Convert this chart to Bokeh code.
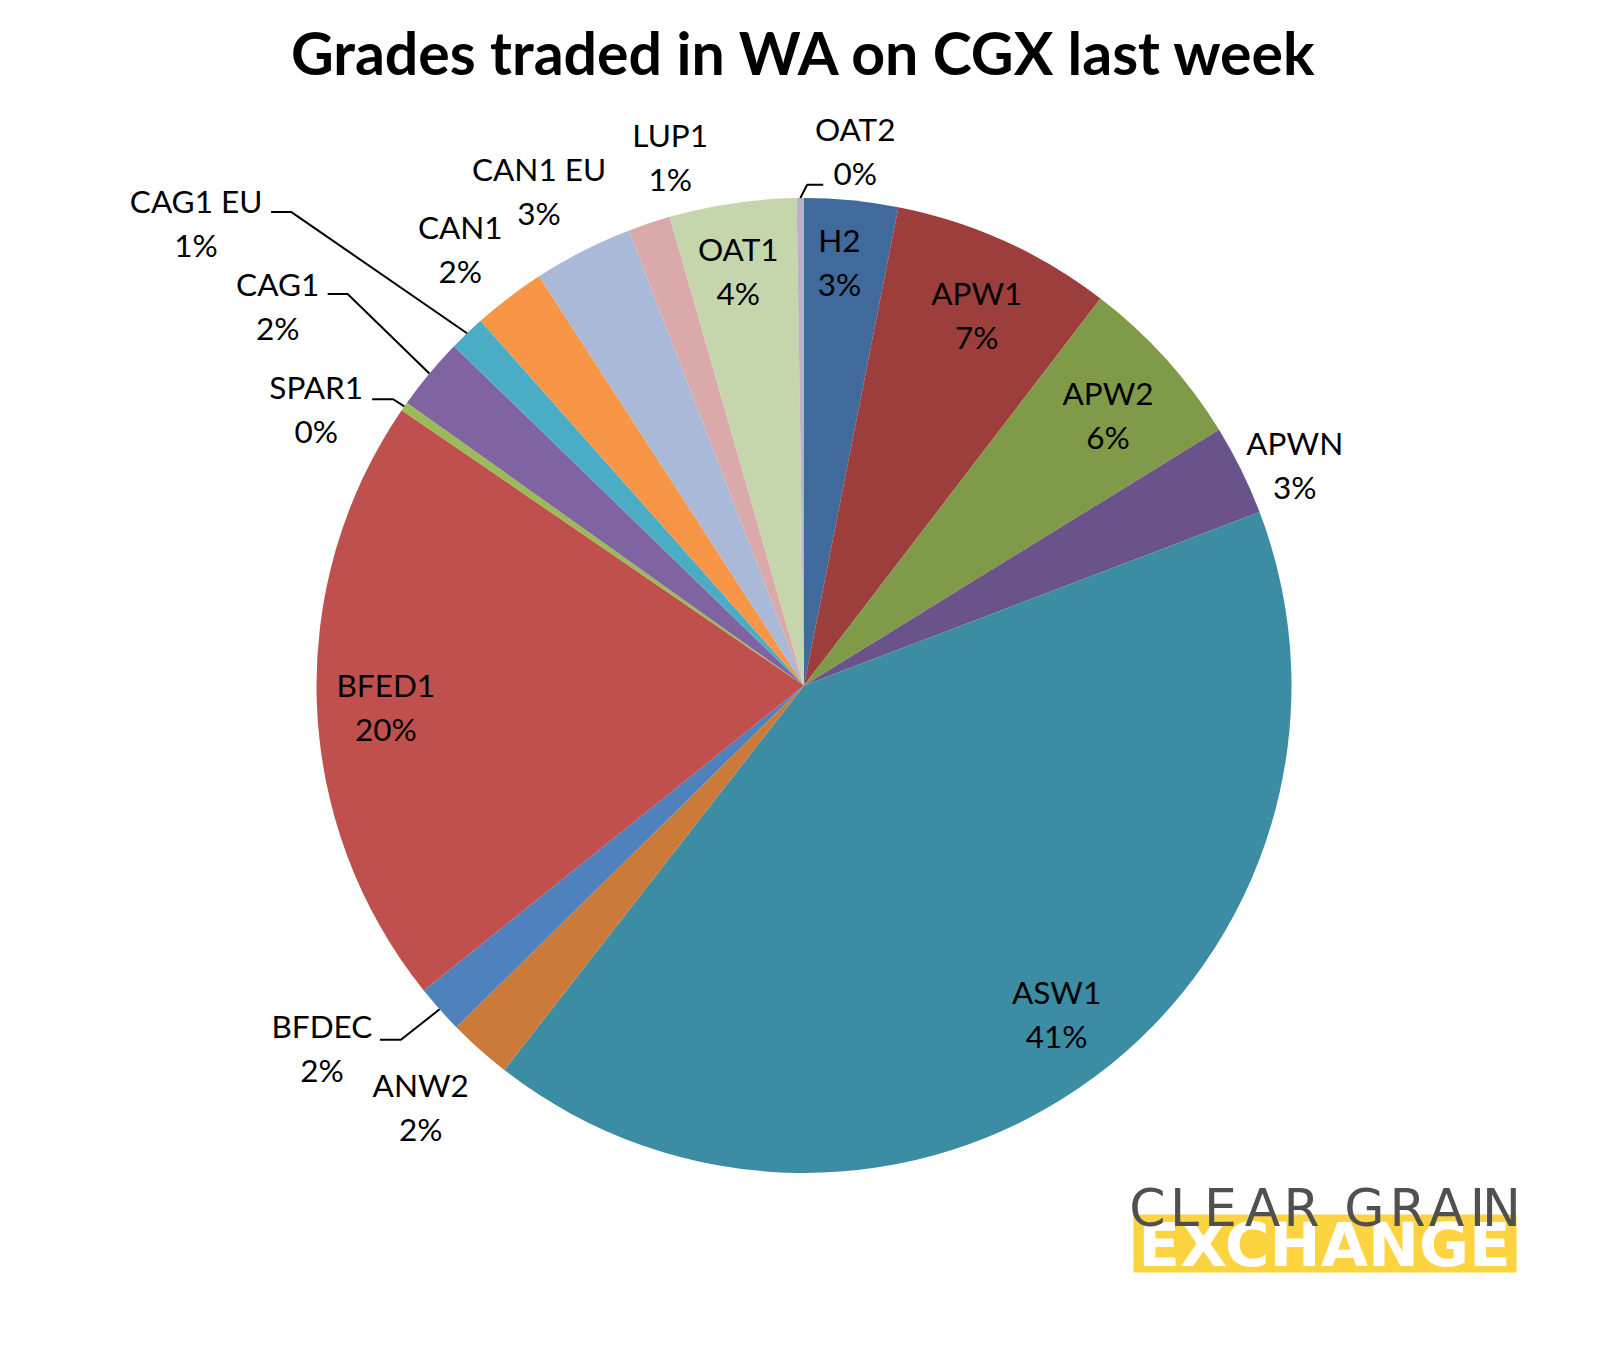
import math
from bokeh.plotting import figure
from bokeh.models import Range1d, ColumnDataSource
from bokeh.core.properties import value
from bokeh.embed import file_html
from bokeh.resources import INLINE

# ---------------- data ----------------
grades = ["H2", "APW1", "APW2", "APWN", "ASW1", "ANW2", "BFDEC", "BFED1",
          "SPAR1", "CAG1", "CAG1 EU", "CAN1", "CAN1 EU", "LUP1", "OAT1", "OAT2"]
shares = [3.1, 7.3, 5.8, 3.0, 41.3, 2.1, 1.6, 20.3,
          0.3, 2.4, 1.2, 2.4, 3.3, 1.4, 4.2, 0.24]
title_text = "Grades traded in WA on CGX last week"
logo_top = "CLEAR GRAIN"
logo_bottom = "EXCHANGE"

# ---------------- style ----------------
colors = ["#3F6A9B", "#9C3E3C", "#7F9A48", "#69538A", "#3C8CA3", "#CB7A39",
          "#4F81BD", "#C0504D", "#9BBB59", "#8064A2", "#4BACC6", "#F79646",
          "#AAB9D7", "#D9AAA9", "#C6D6AC", "#BAB0C9"]
# label placement: radius factor (of pie radius) and angular shift (deg) from slice middle
label_r = [0.871, 0.838, 0.835, 1.104, 0.85, 1.168, 1.237, 0.859,
           1.150, 1.331, 1.567, 1.139, 1.151, 1.118, 0.860, 1.102]
label_shift = [-0.8, 0.7, 0.4, 2.0, -1.1, 0.6, 4.7, -0.8,
               -5.4, -4.0, -9.0, -1.0, -1.2, 4.3, -0.6, 5.9]
# leader lines: (end dx, elbow dx, dy) relative to label centre, in screen px
leaders = {"BFDEC": (58, 79, -8), "SPAR1": (56, 77, -10), "CAG1": (50, 70, -12),
           "CAG1 EU": (75, 95, -11), "OAT2": (-32, -48, 34)}
# letter centres of the spaced-out logo word (screen px)
logo_top_x = [1147, 1184, 1220, 1262, 1301, None, 1364, 1407, 1446, 1477, 1501]

PAGE_H = 1352
CX, CY, R = 803.5, 685.0, 487.5
FONT = value("Lato")

def sy(y):
    return PAGE_H - y

p = figure(width=1592, height=1336, x_range=Range1d(0, 1592), y_range=Range1d(16, 1352),
           output_backend="svg", toolbar_location=None, min_border=0,
           x_axis_location=None, y_axis_location=None)
p.grid.visible = False
p.outline_line_color = None
p.background_fill_color = "white"
p.border_fill_color = "white"

total = sum(shares)
starts, ends, mids = [], [], []
acc = 0.0
for v in shares:
    s = acc / total * 360.0
    acc += v
    e = acc / total * 360.0
    starts.append(s); ends.append(e); mids.append((s + e) / 2)

src = ColumnDataSource(dict(
    grade=grades,
    start=[math.radians(90 - e) for e in ends],
    end=[math.radians(90 - s) for s in starts],
    color=colors,
))
p.wedge(x=CX, y=sy(CY), radius=R, start_angle="start", end_angle="end",
        direction="anticlock", fill_color="color", line_color=None, source=src)

# labels
nx, ny, px_, py_ = [], [], [], []
pcts = []
lx_all, ly_all = [], []
for i, g in enumerate(grades):
    a = math.radians(mids[i] + label_shift[i])
    lx = CX + label_r[i] * R * math.sin(a)
    ly = CY - label_r[i] * R * math.cos(a)
    lx_all.append(lx); ly_all.append(ly)
    nx.append(lx); ny.append(sy(ly - 22))
    px_.append(lx); py_.append(sy(ly + 22))
    pcts.append(f"{round(100 * shares[i] / total)}%")

lsrc = ColumnDataSource(dict(nx=nx, ny=ny, px=px_, py=py_, name=grades, pct=pcts))
p.text(x="nx", y="ny", text="name", source=lsrc, text_font=FONT, text_font_size="31.5px",
       text_align="center", text_baseline="middle", text_color="black")
p.text(x="px", y="py", text="pct", source=lsrc, text_font=FONT, text_font_size="31.5px",
       text_align="center", text_baseline="middle", text_color="black")

# leader lines
xs, ys = [], []
for i, g in enumerate(grades):
    if g in leaders:
        edx, bdx, dy = leaders[g]
        a = math.radians(mids[i])
        ex = CX + R * math.sin(a)
        ey = CY - R * math.cos(a)
        lx, ly = lx_all[i], ly_all[i]
        xs.append([ex, lx + bdx, lx + edx])
        ys.append([sy(ey), sy(ly + dy), sy(ly + dy)])
p.multi_line(xs=xs, ys=ys, line_color="black", line_width=2)

# title
p.text(x=[804], y=[sy(52)], text=[title_text], text_font=FONT, text_font_style="bold",
       text_font_size="59px", text_align="center", text_baseline="middle", text_color="black")

# logo
p.quad(left=[1133], right=[1516], top=[sy(1214)], bottom=[sy(1272)],
       fill_color="#FDD340", line_color=None)
p.text(x=[1324], y=[sy(1244)], text=[logo_bottom], text_font=value("DejaVu Sans"),
       text_font_style="bold", text_font_size="61px", text_align="center",
       text_baseline="middle", text_color="white")
letters = [c for c in logo_top if c != " "]
lxs = [x for x in logo_top_x if x is not None]
p.text(x=lxs, y=[sy(1207)] * len(lxs), text=letters, text_font=value("DejaVu Sans"),
       text_font_size="52px", text_align="center", text_baseline="alphabetic",
       text_color="#505050")

open("out.html", "w").write(file_html(p, INLINE))
